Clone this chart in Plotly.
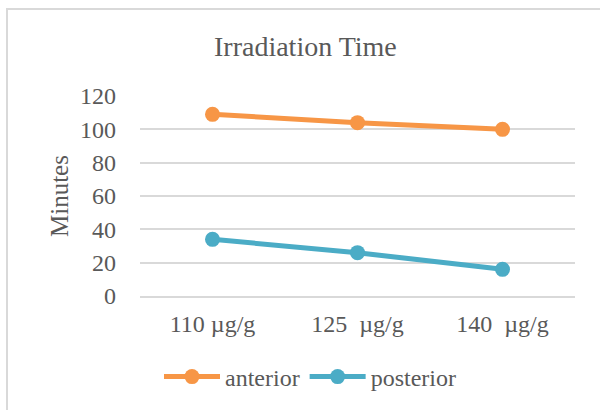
import plotly.graph_objects as go

# Dose categories and irradiation times (minutes)
doses = ["110\u00a0µg/g", "125\u00a0\u00a0µg/g", "140\u00a0\u00a0µg/g"]
anterior = [109, 104, 100]
posterior = [34, 26, 16]
y_ticks = [0, 20, 40, 60, 80, 100, 120]

W, H = 600, 410
L, R, T, B = 140, 25, 96, 114
TEXT = "#595959"
GRID = "#d9d9d9"
SERIF = "Liberation Serif, Times New Roman, serif"


def px_x(p):
    return (p - L) / (W - L - R)


def px_y(p):
    return 1 - (p - T) / (H - T - B)


fig = go.Figure()
fig.add_trace(go.Scatter(
    x=doses, y=anterior, name="anterior", mode="lines+markers",
    line=dict(color="#F79646", width=5),
    marker=dict(color="#F79646", size=15),
))
fig.add_trace(go.Scatter(
    x=doses, y=posterior, name="posterior", mode="lines+markers",
    line=dict(color="#4BACC6", width=5),
    marker=dict(color="#4BACC6", size=15),
))

fig.update_layout(
    width=W, height=H,
    margin=dict(l=L, r=R, t=T, b=B, autoexpand=False),
    paper_bgcolor="white", plot_bgcolor="white",
    font=dict(family=SERIF, size=24, color=TEXT),
    showlegend=True,
    legend=dict(
        orientation="h", x=px_x(310), xanchor="center", y=px_y(377), yanchor="middle",
        font=dict(family=SERIF, size=24, color=TEXT),
        itemwidth=56, tracegroupgap=0,
    ),
    xaxis=dict(
        type="category", range=[-0.5, 2.5],
        showgrid=False, zeroline=False,
        showline=True, linecolor=GRID, linewidth=1.5,
        ticks="", ticklabelstandoff=5,
        tickfont=dict(family=SERIF, size=24, color=TEXT),
    ),
    yaxis=dict(
        range=[0, 120], tickvals=y_ticks,
        showgrid=True, gridcolor=GRID, gridwidth=1.5,
        zeroline=False, showline=False,
        ticks="", ticklabelstandoff=23,
        tickfont=dict(family=SERIF, size=24, color=TEXT),
    ),
    annotations=[
        dict(text="Irradiation Time", xref="paper", yref="paper",
             x=px_x(305), y=px_y(47), xanchor="center", yanchor="middle",
             showarrow=False, font=dict(family=SERIF, size=28, color=TEXT)),
        dict(text="Minutes", xref="paper", yref="paper",
             x=px_x(59), y=px_y(196), xanchor="center", yanchor="middle",
             textangle=-90, showarrow=False,
             font=dict(family=SERIF, size=25, color=TEXT)),
    ],
    shapes=[
        dict(type="rect", xref="paper", yref="paper",
             x0=px_x(7), x1=px_x(W + 20), y0=px_y(H + 20), y1=px_y(9),
             line=dict(color=GRID, width=2), layer="below"),
    ],
)

fig.write_html("out.html")
